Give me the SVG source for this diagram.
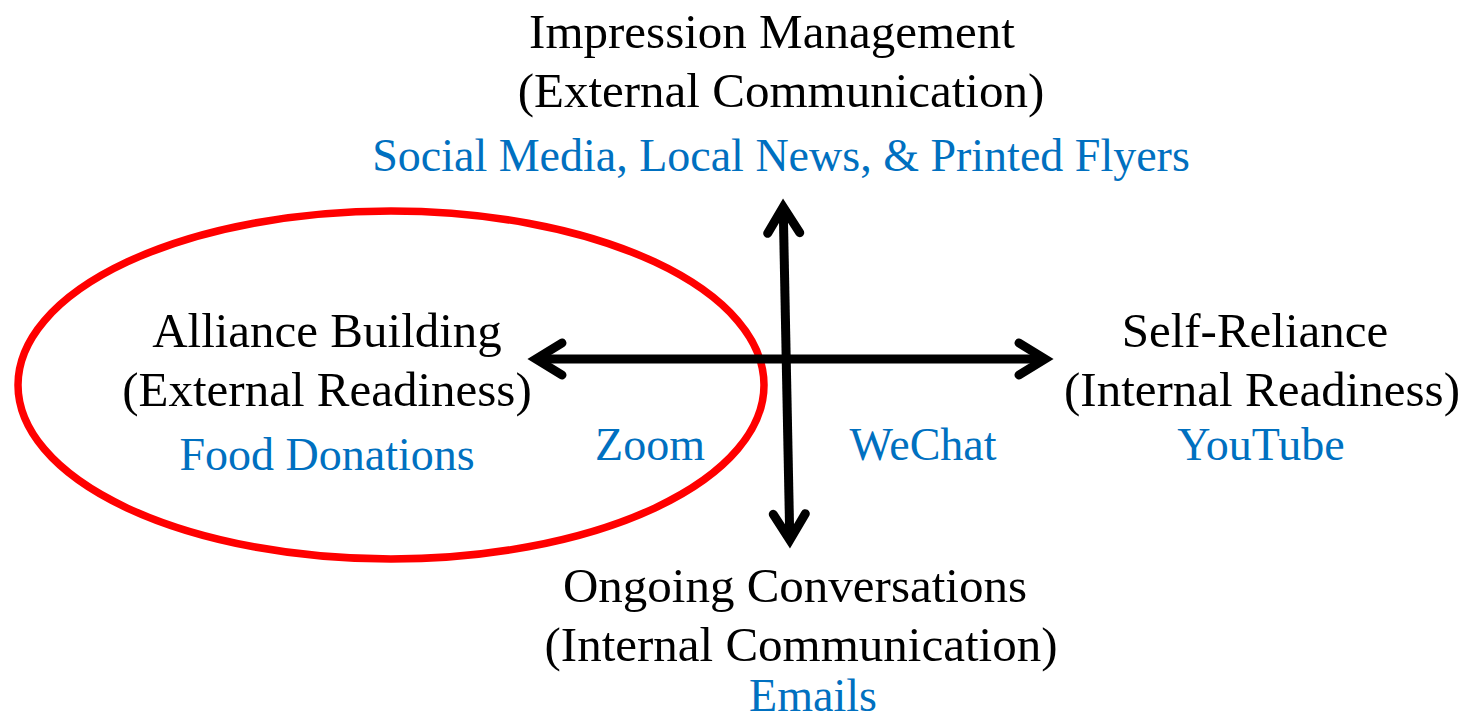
<svg xmlns="http://www.w3.org/2000/svg" width="1471" height="719" viewBox="0 0 1471 719">
<style>
.t{font-family:"Liberation Serif","Times New Roman",serif;font-size:49px;fill:#000;text-anchor:middle}
.b{font-family:"Liberation Serif","Times New Roman",serif;font-size:46px;fill:#0070C0;text-anchor:middle}
.ax{fill:none;stroke:#000;stroke-width:9;marker-start:url(#hd);marker-end:url(#hd)}
</style>
<defs>
<marker id="hd" markerUnits="userSpaceOnUse" orient="auto-start-reverse" overflow="visible" markerWidth="10" markerHeight="10" refX="0" refY="0">
<path d="M-26,-16 L0,0 L-26,16" fill="none" stroke="#000" stroke-width="9" stroke-linecap="round" stroke-linejoin="miter"/>
</marker>
</defs>
<rect width="1471" height="719" fill="#fff"/>
<g id="highlight">
<ellipse cx="391" cy="385" rx="373" ry="174" fill="none" stroke="#FF0000" stroke-width="7.5"/>
</g>
<g id="connectors">
<path class="ax" d="M536,359 L1045,359"/>
<path class="ax" d="M783.2,207 L789.8,540"/>
</g>
<g id="impression">
<text class="t" x="772" y="48">Impression Management</text>
<text class="t" x="781" y="107">(External Communication)</text>
<text class="b" x="781" y="171">Social Media, Local News, &amp; Printed Flyers</text>
</g>
<g id="alliance">
<text class="t" x="327" y="347">Alliance Building</text>
<text class="t" x="327" y="406">(External Readiness)</text>
<text class="b" x="327" y="470">Food Donations</text>
</g>
<g id="zoom"><text class="b" x="650" y="460">Zoom</text></g>
<g id="wechat"><text class="b" x="923" y="460">WeChat</text></g>
<g id="selfreliance">
<text class="t" x="1255" y="347">Self-Reliance</text>
<text class="t" x="1262" y="406">(Internal Readiness)</text>
<text class="b" x="1261" y="460">YouTube</text>
</g>
<g id="ongoing">
<text class="t" x="795" y="602">Ongoing Conversations</text>
<text class="t" x="801" y="661">(Internal Communication)</text>
<text class="b" x="813" y="711">Emails</text>
</g>
</svg>
